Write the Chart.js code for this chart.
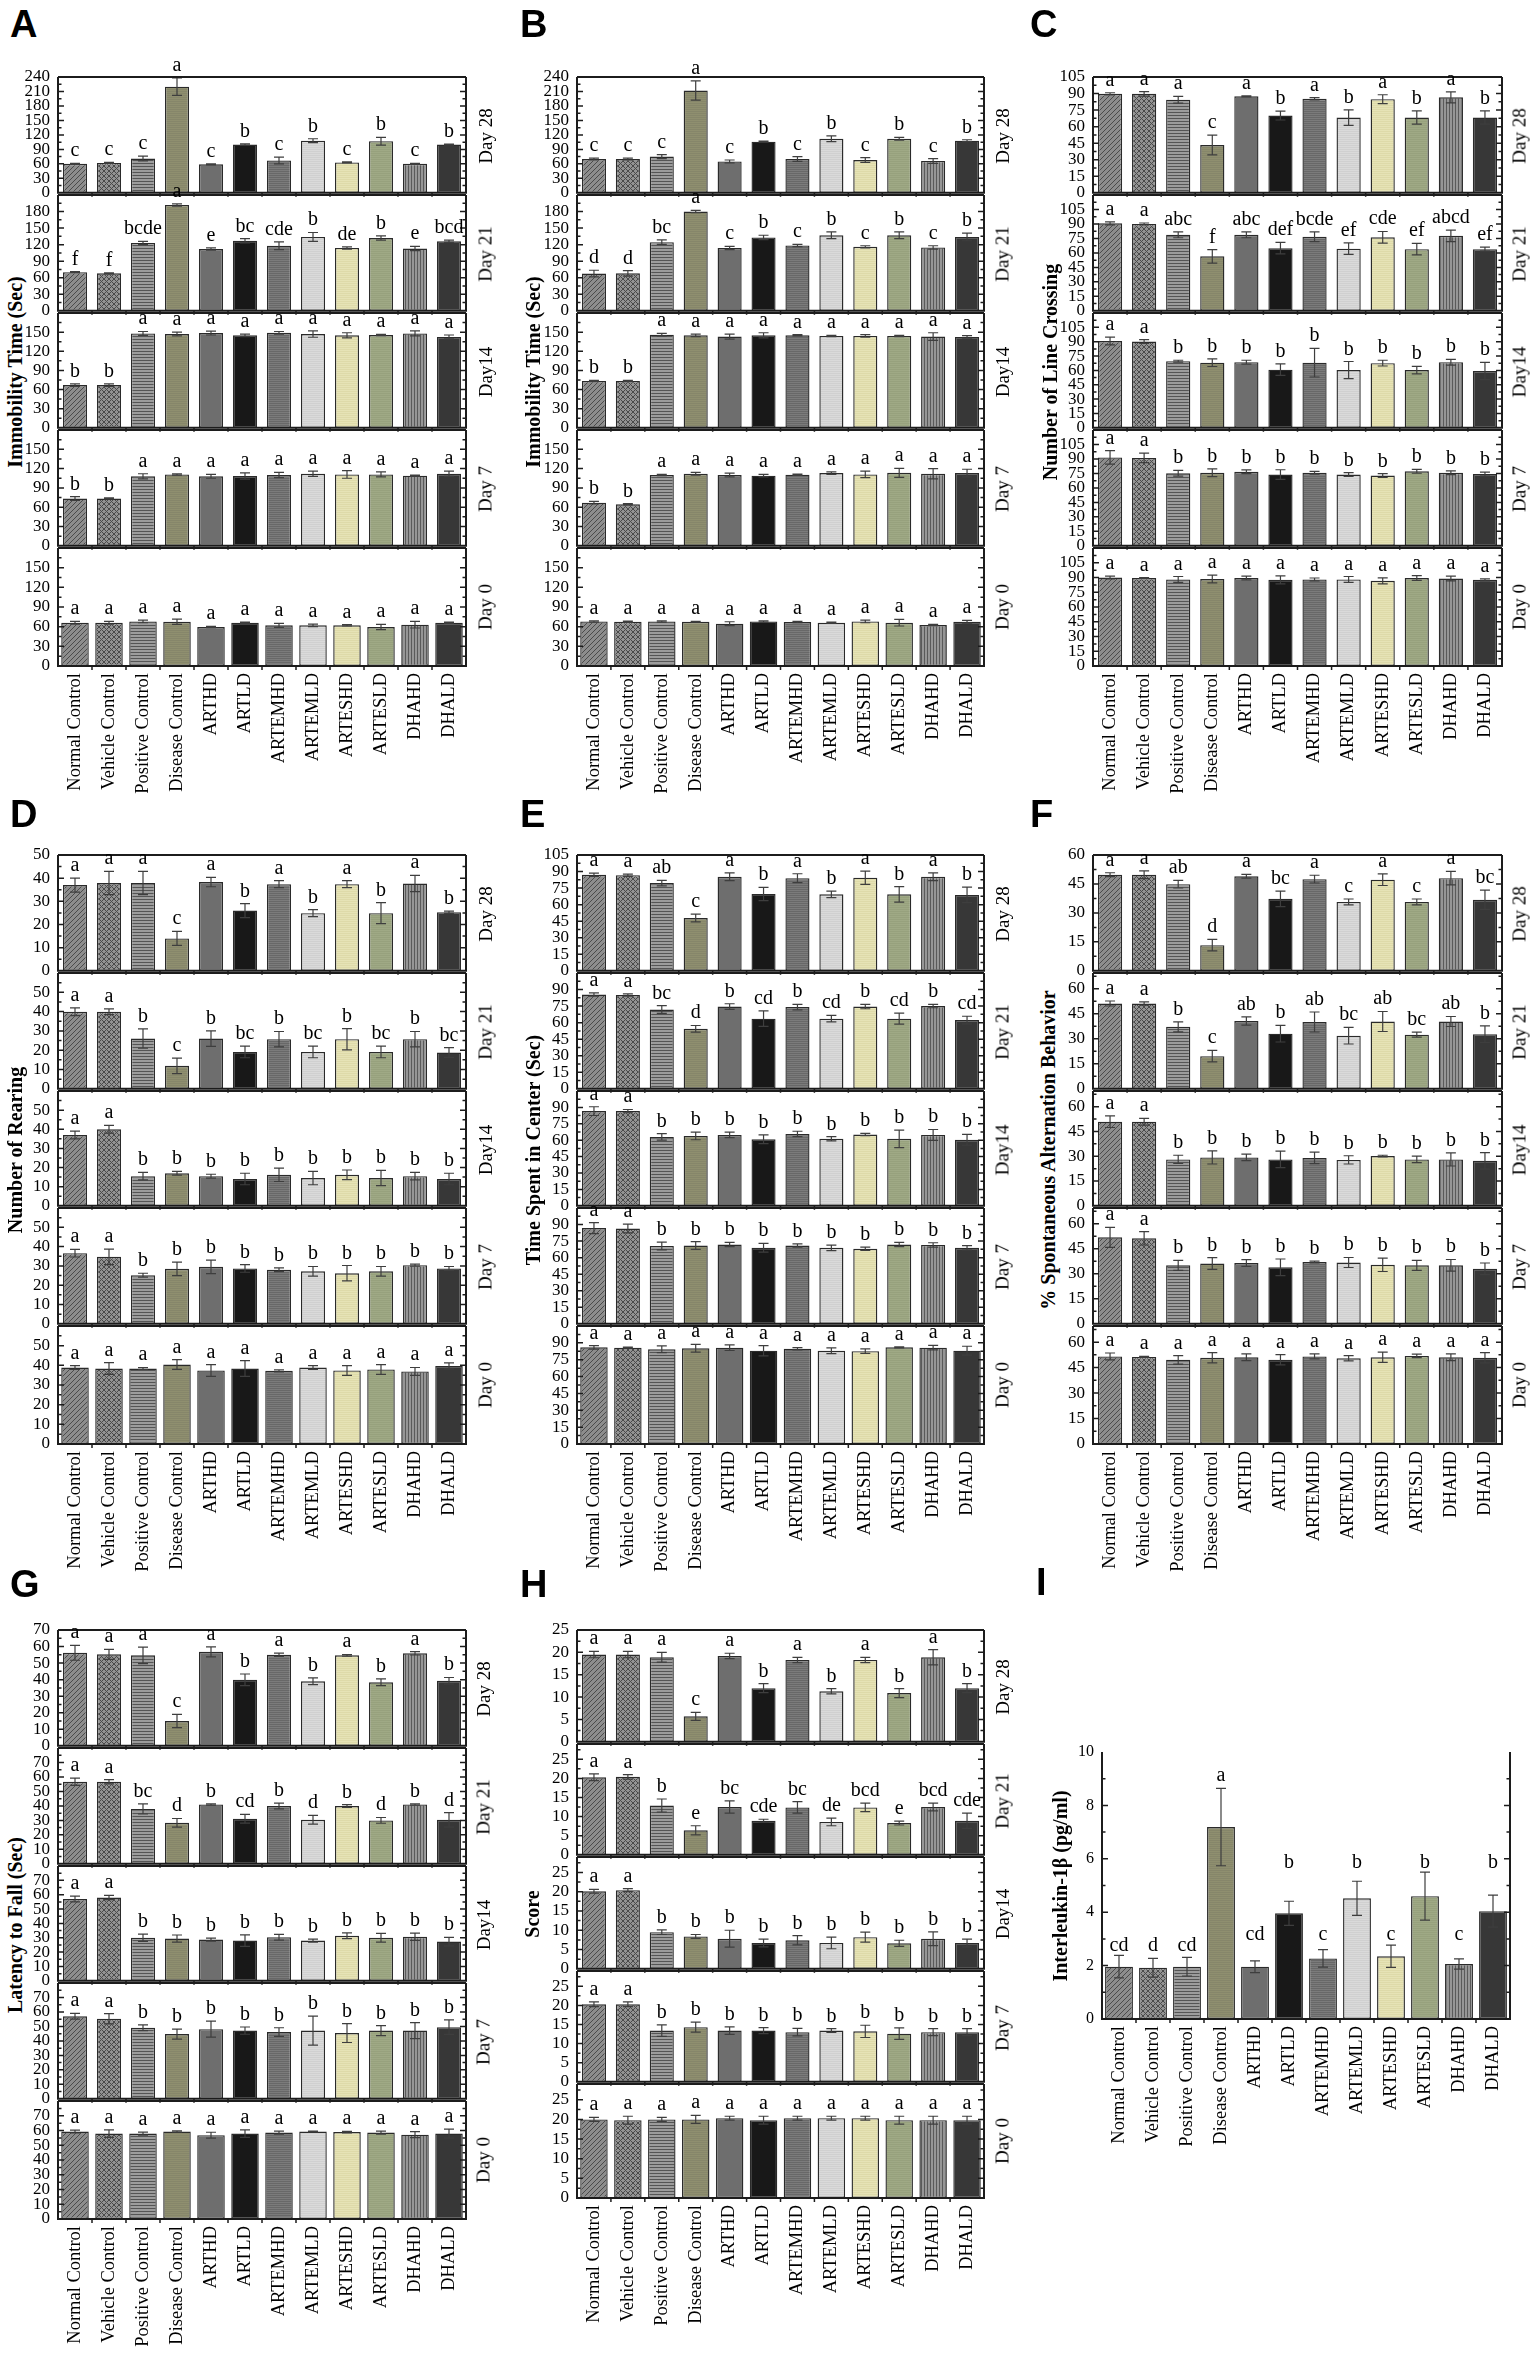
<!DOCTYPE html>
<html><head><meta charset="utf-8">
<script src="https://cdn.jsdelivr.net/npm/chart.js@4.4.1/dist/chart.umd.min.js"></script>
<style>
html,body{margin:0;padding:0;background:#fff;}
body{position:relative;width:1538px;height:2357px;overflow:hidden;}
canvas{position:absolute;}
.t{position:absolute;white-space:nowrap;color:#000;}
.plet{font:bold 38px/38px "Liberation Sans";}
.rot{transform:translate(-50%,-50%) rotate(-90deg);}
.day{font:19px/19px "Liberation Serif";}
.ytit{font:bold 20px/20px "Liberation Serif";}
</style></head><body>
<script>
// ---------------- categories / labels ----------------
const groups = ["Normal Control","Vehicle Control","Positive Control","Disease Control","ARTHD","ARTLD","ARTEMHD","ARTEMLD","ARTESHD","ARTESLD","DHAHD","DHALD"];
const dayLabels = ["Day 28","Day 21","Day14","Day 7","Day 0"];

// ---------------- tick label lists ----------------
const ticks240 = [0,30,60,90,120,150,180,210,240];
const ticks180 = [0,30,60,90,120,150,180];
const ticks150 = [0,30,60,90,120,150];
const ticks105 = [0,15,30,45,60,75,90,105];
const ticks90  = [0,15,30,45,60,75,90];
const ticks50  = [0,10,20,30,40,50];
const ticks60  = [0,15,30,45,60];
const ticks70  = [0,10,20,30,40,50,60,70];
const ticks25  = [0,5,10,15,20,25];
const ticks10  = [0,2,4,6,8,10];

// ---------------- common letter lists ----------------
const sigAllA = ["a","a","a","a","a","a","a","a","a","a","a","a"];
const sigBBA  = ["b","b","a","a","a","a","a","a","a","a","a","a"];
const sigAAB  = ["a","a","b","b","b","b","b","b","b","b","b","b"];

// ---------------- Panel A: Immobility Time (Sec) ----------------
const A_d28_mean = [60,62,71,220,59,100,67,108,63,107,60,100];
const A_d28_sem  = [1,1,5,18,1,1.5,7,4,1,8,1,1];
const A_d28_sig  = ["c","c","c","a","c","b","c","b","c","b","c","b"];
const A_d21_mean = [70,68,123,192,112,127,118,134,114,132,113,126];
const A_d21_sem  = [1,1,3,2,2,4,7,8,2,4,4,2];
const A_d21_sig  = ["f","f","bcde","a","e","bc","cde","b","de","b","e","bcd"];
const A_d14_mean = [67,67,148,147,148.5,145,149,147,145,145.5,148,142.5];
const A_d14_sem  = [2,2,3,3,3,2,2,5,4,1,4,3];
const A_d7_mean  = [73.5,73.5,108,111,108,108.5,110,112,111,111,109,112];
const A_d7_sem   = [3,1,4,1,3,5,4,4,6,4,1,4];
const A_d0_mean  = [66,66,68,67.5,59.5,66,62,62,62,59.5,63,66];
const A_d0_sem   = [2,2,2,4,1,1,3,2,1,4,5,1];

// ---------------- Panel B: Immobility Time (Sec) ----------------
const B_d28_mean = [70,70,75,212,65,106,70,112,68,112,66,108];
const B_d28_sem  = [2,2,4,20,3,1,5,6,5,3,5,2];
const B_d28_sig  = ["c","c","c","a","c","b","c","b","c","b","c","b"];
const B_d21_mean = [67.5,68,124.5,180,114,133,118.5,137,116,137,115,134];
const B_d21_sem  = [6,5,4,2,3,4,2,6,2,6,3,7];
const B_d21_sig  = ["d","d","bc","a","c","b","c","b","c","b","c","b"];
const B_d14_mean = [73.5,73.5,146,145,143,145,145,144,144,144,143,142.5];
const B_d14_sem  = [1,1,2,2,4,4,1,1,2,1,6,2];
const B_d7_mean  = [67,64.5,110,112,110,109,110.5,113,111,113.5,112,113];
const B_d7_sem   = [2,1,1,2,3,2,1,2,5,7,8,6];
const B_d0_mean  = [68,67.5,68,67.5,64.5,68,67,66,68,66,62.5,67.5];
const B_d0_sem   = [1,1,1,0.5,3,1,1,1,2,5,1,2];

// ---------------- Panel C: Number of Line Crossing ----------------
const C_d28_mean = [89.7,89.7,84.4,43.3,87.5,70,85.3,68.2,84.9,68.2,86.6,68.2];
const C_d28_sem  = [1,2,3,9,0.5,4,1,7,4,6,5,6];
const C_d28_sig  = ["a","a","a","c","a","b","a","b","a","b","a","b"];
const C_d21_mean = [90.6,90,78.7,56.4,78.7,64.9,76.7,64.4,76.2,63.9,77.7,63.9];
const C_d21_sem  = [1.5,1,3,7,3,6,5,6,6,6,6,2];
const C_d21_sig  = ["a","a","abc","f","abc","def","bcde","ef","cde","ef","abcd","ef"];
const C_d14_mean = [90.7,90.2,69.6,68.1,68.6,60.8,68.1,60.3,67.6,60.3,68.6,59.3];
const C_d14_sem  = [4,2,1,4,2,6,15,9,3,4,3,9];
const C_d7_mean  = [91.6,91.1,75.2,75.7,76.7,73.8,75.7,73.8,72.8,77.2,75.7,74.3];
const C_d7_sem   = [7,5,3,4,2,5,1.5,2,2,2,2,2];
const C_d0_mean  = [90,89.5,88,88.5,89.5,87.6,88,88,86.6,89.5,89,87.6];
const C_d0_sem   = [1.5,0.5,3,4,2,4,1.5,3,3,2.5,2.5,1];

// ---------------- Panel D: Number of Rearing ----------------
const D_d28_mean = [37,37.9,37.9,14,38.3,26,37.4,24.9,37.4,24.9,37.7,25.3];
const D_d28_sem  = [3,5,5,3,2,3,1.5,1.5,1.5,4.5,3.5,0.5];
const D_d28_sig  = ["a","a","a","c","a","b","a","b","a","b","a","b"];
const D_d21_mean = [39.9,39.9,26,11.9,26,19.1,25.7,19.1,25.7,19.1,25.7,18.8];
const D_d21_sem  = [2,1.5,5,4,4,3,4,3,5.5,3,4,2.5];
const D_d21_sig  = ["a","a","b","c","b","bc","b","bc","b","bc","b","bc"];
const D_d14_mean = [37,40,15.5,17,15.5,14,16.2,14.5,16.2,14.5,15.5,14];
const D_d14_sem  = [2,2,2,1,1,3,3.5,3.5,2.5,4,2,3];
const D_d7_mean  = [36.6,34.7,25.2,28.5,29.5,28.7,28,27.2,26.2,27.2,30.4,28.7];
const D_d7_sem   = [2,4,1,3.5,3.5,2,1,2.5,4,2.5,0.5,1];
const D_d0_mean  = [38.9,38.4,38.4,40.4,37.4,38.4,37.2,38.9,37.4,37.9,36.9,39.7];
const D_d0_sem   = [1,3,0.5,2.5,3,4,0.5,1,2.5,2.5,2,1.5];

// ---------------- Panel E: Time Spent in Center (Sec) ----------------
const E_d28_mean = [87.1,86.7,79.5,47.8,85.3,69.7,84,69.3,84.4,69.3,85.3,68.8];
const E_d28_sem  = [1.5,1,2.5,3.5,3.5,6,4,3,6,7,3.5,7];
const E_d28_sig  = ["a","a","ab","c","a","b","a","b","a","b","a","b"];
const E_d21_mean = [85.5,85.1,71.9,54.4,74.6,63.6,74.1,63.6,74.6,63.6,75,62.3];
const E_d21_sem  = [1.5,1,3.5,3,2.5,7,2.5,3,2,5,1.5,3.5];
const E_d21_sig  = ["a","a","bc","d","b","cd","b","cd","b","cd","b","cd"];
const E_d14_mean = [86.6,86.6,63,63.9,64.8,60.8,65.7,61.3,65.2,61.3,64.8,60.4];
const E_d14_sem  = [4,1.5,3,3.5,2.5,4,2.5,2,1,8,5,5];
const E_d7_mean  = [86.8,86.4,70.6,71,71.9,68.9,71,68.9,68,71.9,71.5,68.9];
const E_d7_sem   = [5,4,3.5,3.5,2,4,1.5,2.5,1.5,2,2,2];
const E_d0_mean  = [86,85.7,84.3,85.2,85.7,83,84.8,83,82.6,86,85.7,83];
const E_d0_sem   = [1.5,0.5,3,3.5,2.5,4.5,1,2.5,2,0.5,2,4];

// ---------------- Panel F: % Spontaneous Alternation Behavior ----------------
const F_d28_mean = [49.8,49.8,44.9,13.3,49,37.3,47.5,35.7,47.2,35.7,48,36.8];
const F_d28_sem  = [1,2,2,3,1,4,2,1.5,3,1.5,3.5,5];
const F_d28_sig  = ["a","a","ab","d","a","bc","a","c","a","c","a","bc"];
const F_d21_mean = [51.2,51.2,37.2,19.6,40.7,33.1,40.1,31.9,40.4,32.5,40.4,32.8];
const F_d21_sem  = [1.5,1,3,3.5,2.5,5,6,5,6,1.5,3,5];
const F_d21_sig  = ["a","a","b","c","ab","b","ab","bc","ab","bc","ab","b"];
const F_d14_mean = [50.9,50.9,28.1,29.3,29.3,28.1,29,27.8,30.1,28.1,28.1,27.2];
const F_d14_sem  = [3.5,2,2.5,4,2,5,3.5,2.5,0.5,2,4,5];
const F_d7_mean  = [51.9,51.3,35.1,36.2,36.5,33.9,37.1,36.8,35.4,35.1,35.1,33];
const F_d7_sem   = [6,4,3,3.5,2,5,0.5,3,4,3,3.5,3.5];
const F_d0_mean  = [51.6,51.3,49.6,50.8,51.1,49.6,51.6,50.5,51.1,51.9,51.1,50.8];
const F_d0_sem   = [2,0.3,2.5,3,2,3,1.5,1.5,3,1,2,3];

// ---------------- Panel G: Latency to Fall (Sec) ----------------
const G_d28_mean = [56.2,55.3,54.7,15,56.8,39.9,55,39,54.7,38.4,55.9,39.3];
const G_d28_sem  = [4.5,3,5,4,3,3.5,1,2,0.5,2,1,2];
const G_d28_sig  = ["a","a","a","c","a","b","a","b","a","b","a","b"];
const G_d21_mean = [56.7,56.7,37.9,28.3,41,31.1,39.9,30.4,39.9,30,41,30.4];
const G_d21_sem  = [2.5,1.5,3.5,3,0.5,3,2,3,1,2,0.5,5];
const G_d21_sig  = ["a","a","bc","d","b","cd","b","d","b","d","b","d"];
const G_d14_mean = [57,58,30,29.4,28.7,28,30.4,28,31.4,30,30.7,27.3];
const G_d14_sem  = [2,1.5,2.5,2.5,1,4,2,1,2,3,2.5,3];
const G_d7_mean  = [57,55.3,49.1,44.7,48.1,47.1,46.1,47.1,45.4,47.1,47.1,49.5];
const G_d7_sem   = [2,3.5,2,3.5,5.5,2.5,3,10,6.5,3.5,5.5,5];
const G_d0_mean  = [59.3,57.9,57.9,59.3,56.8,57.9,58.6,59.3,58.9,58.6,57.2,57.9];
const G_d0_sem   = [1,2.5,1,0.5,2,2.5,1,0.3,0.5,1,2,3];

// ---------------- Panel H: Score ----------------
const H_d28_mean = [19.5,19.5,18.9,5.7,19.2,12,18.3,11.3,18.3,10.9,18.9,12];
const H_d28_sem  = [0.7,0.7,1.1,0.9,0.6,1,0.6,0.6,0.6,1,1.7,1];
const H_d28_sig  = ["a","a","a","c","a","b","a","b","a","b","a","b"];
const H_d21_mean = [20.3,20.4,12.9,6.4,12.5,8.9,12.4,8.6,12.4,8.3,12.5,8.9];
const H_d21_sem  = [0.9,0.6,1.7,1.2,1.6,0.4,1.5,1,1.1,0.5,1,2];
const H_d21_sig  = ["a","a","b","e","bc","cde","bc","de","bcd","e","bcd","cde"];
const H_d14_mean = [20.1,20.4,9.5,8.4,7.8,6.7,7.4,6.7,8.2,6.6,7.8,6.7];
const H_d14_sem  = [0.5,0.4,0.6,0.5,2.2,1,1.2,1.5,1.3,0.8,1.8,1];
const H_d7_mean  = [20.3,20.3,13.4,14.3,13.4,13.4,13,13.4,13.2,12.6,13,13];
const H_d7_sem   = [0.6,0.6,1.5,1.3,1,0.8,1,0.5,1.6,1.5,0.9,0.9];
const H_d0_mean  = [20,19.8,20,20,20.3,19.8,20.3,20.3,20.3,19.8,19.8,19.8];
const H_d0_sem   = [0.5,1,0.5,1,0.5,1,0.5,0.5,0.5,1,1,1];

// ---------------- Panel I: Interleukin-1β (pg/ml) ----------------
const I_mean = [1.96,1.92,1.96,7.19,1.96,3.96,2.27,4.52,2.35,4.6,2.06,4.04];
const I_sem  = [0.42,0.35,0.35,1.45,0.22,0.45,0.33,0.64,0.42,0.9,0.19,0.6];
const I_sig  = ["cd","d","cd","a","cd","b","c","b","c","b","c","b"];
const I_sigPos = [2.75,2.75,2.75,9.1,3.15,5.85,3.15,5.85,3.15,5.85,3.15,5.85];

// ---------------- fills (library patterns) ----------------
function pat(base, line, type, sp){
  const c=document.createElement('canvas'); c.width=sp; c.height=sp;
  const g=c.getContext('2d'); g.fillStyle=base; g.fillRect(0,0,sp,sp);
  if(type){
    g.strokeStyle=line; g.lineWidth=1; g.beginPath();
    if(type==='diag'||type==='cross'){ g.moveTo(-1,sp+1); g.lineTo(sp+1,-1); g.moveTo(-1,1); g.lineTo(1,-1); g.moveTo(sp-1,sp+1); g.lineTo(sp+1,sp-1); }
    if(type==='cross'){ g.moveTo(-1,-1); g.lineTo(sp+1,sp+1); g.moveTo(sp-1,-1); g.lineTo(sp+1,1); g.moveTo(-1,sp-1); g.lineTo(1,sp+1); }
    if(type==='h'){ g.moveTo(0,0.5); g.lineTo(sp,0.5); }
    if(type==='v'){ g.moveTo(0.5,0); g.lineTo(0.5,sp); }
    g.stroke();
  }
  return g.createPattern(c,'repeat');
}
const fills = [
  pat('#8d8d8d','#4b4b4b','diag',5),
  pat('#939393','#4a4a4a','cross',5),
  pat('#9c9c9c','#555555','h',3),
  pat('#8f8f6f','#86866a','h',2),
  pat('#6e6e6e',null,null,2),
  pat('#181818',null,null,2),
  pat('#7b7b7b','#686868','h',2),
  pat('#dadada','#d0d0d0','h',2),
  pat('#e6e3b6','#dedaa9','h',2),
  pat('#9fa985','#97a17d','h',2),
  pat('#969696','#5a5a5a','v',3),
  pat('#373737',null,null,2)
];

// ---------------- layout of panels ----------------
const P = {
  A:{L:58,R:466,T:77,B:666,dayX:485,titleX:15,letX:10,letY:5,title:"Immobility Time (Sec)"},
  B:{L:577,R:984,T:77,B:666,dayX:1002,titleX:533,letX:520,letY:5,title:"Immobility Time (Sec)"},
  C:{L:1093,R:1502,T:77,B:666,dayX:1519,titleX:1050,letX:1030,letY:5,title:"Number of Line Crossing"},
  D:{L:58,R:466,T:855,B:1444,dayX:485,titleX:15,letX:10,letY:795,title:"Number of Rearing"},
  E:{L:577,R:984,T:855,B:1444,dayX:1002,titleX:533,letX:520,letY:795,title:"Time Spent in Center (Sec)"},
  F:{L:1093,R:1502,T:855,B:1444,dayX:1519,titleX:1048,letX:1030,letY:795,title:"% Spontaneous Alternation Behavior"},
  G:{L:58,R:466,T:1630,B:2219,dayX:483,titleX:15,letX:10,letY:1565,title:"Latency to Fall (Sec)"},
  H:{L:577,R:984,T:1630,B:2198,dayX:1002,titleX:532,letX:520,letY:1565,title:"Score"},
  I:{L:1102,R:1510,T:1752,B:2019,titleX:1060,letX:1036,letY:1563,title:"Interleukin-1β (pg/ml)"}
};

function addText(txt, x, y, cls){
  const d=document.createElement('div'); d.className='t '+cls; d.textContent=txt;
  d.style.left=x+'px'; d.style.top=y+'px'; document.body.appendChild(d); return d;
}

function decor(sem, sig, ax, opt){
  return { id:'decor', afterDatasetsDraw(chart){
    const ctx=chart.ctx, a=chart.chartArea, y=chart.scales.y;
    const meta=chart.getDatasetMeta(0), vals=chart.data.datasets[0].data;
    ctx.save();
    ctx.strokeStyle='#3e3e3e'; ctx.lineWidth=1.2;
    meta.data.forEach((b,i)=>{
      const yt=y.getPixelForValue(vals[i]+sem[i]), yb=y.getPixelForValue(vals[i]-sem[i]);
      ctx.beginPath(); ctx.moveTo(b.x,yt); ctx.lineTo(b.x,yb);
      ctx.moveTo(b.x-5,yt); ctx.lineTo(b.x+5,yt); ctx.moveTo(b.x-5,yb); ctx.lineTo(b.x+5,yb); ctx.stroke();
    });
    ctx.strokeStyle='#1c1c1c'; ctx.lineWidth=2; ctx.beginPath();
    if(!opt.noTop){ ctx.moveTo(a.left,a.top); ctx.lineTo(a.right,a.top); }
    ctx.moveTo(a.left,a.top); ctx.lineTo(a.left,a.bottom); ctx.lineTo(a.right,a.bottom); ctx.lineTo(a.right,a.top);
    ctx.stroke();
    ctx.lineWidth=1.5; ctx.beginPath();
    for(let j=1; j*ax.minor < ax.max-1e-6; j++){
      const py=y.getPixelForValue(j*ax.minor); const len=(j%2===0)?6:3.5;
      ctx.moveTo(a.left,py); ctx.lineTo(a.left+len,py);
      ctx.moveTo(a.right,py); ctx.lineTo(a.right-len,py);
    }
    const pitch=(a.right-a.left)/groups.length;
    for(let i=1;i<groups.length;i++){ const px=a.left+i*pitch; ctx.moveTo(px,a.bottom); ctx.lineTo(px,a.bottom+4); }
    ctx.stroke();
    ctx.fillStyle='#000'; ctx.font='20px "Liberation Serif"'; ctx.textAlign='center';
    meta.data.forEach((b,i)=>{
      if(opt.pos){ ctx.textBaseline='middle'; ctx.fillText(sig[i], b.x, y.getPixelForValue(opt.pos[i])); }
      else { ctx.textBaseline='alphabetic'; ctx.fillText(sig[i], b.x, y.getPixelForValue(vals[i]+sem[i])-7); }
    });
    ctx.restore();
  }};
}

function barChart(left, top, w, h, isBottom, mean, sem, sig, ax, opt){
  const YW=64, TP=46, RP=18, BP=isBottom?0:16, XH=isBottom?175:0;
  const W=YW+w+RP, H=TP+h+XH+BP;
  const cv=document.createElement('canvas'); cv.width=W; cv.height=H;
  cv.style.left=(left-YW)+'px'; cv.style.top=(top-TP)+'px'; cv.style.width=W+'px'; cv.style.height=H+'px';
  document.body.appendChild(cv);
  new Chart(cv,{
    type:'bar',
    data:{labels:groups, datasets:[{data:mean, backgroundColor:fills, borderColor:'#2a2a2a', borderWidth:1.4, borderSkipped:false, barPercentage:opt.bp||0.71, categoryPercentage:1}]},
    options:{
      responsive:false, animation:false, devicePixelRatio:1, events:[],
      layout:{padding:{left:0,top:TP,right:RP,bottom:BP}},
      plugins:{legend:{display:false}, tooltip:{enabled:false}},
      scales:{
        x:{grid:{display:false,drawTicks:false}, border:{display:false},
           ticks:{display:isBottom, autoSkip:false, minRotation:90, maxRotation:90, padding:7, color:'#000', font:{family:'Liberation Serif', size:18.5}},
           afterFit:s=>{s.height=XH;}},
        y:{min:0, max:ax.max, grid:{display:false,drawTicks:false}, border:{display:false},
           afterBuildTicks:s=>{s.ticks=ax.t.map(v=>({value:v}));},
           ticks:{autoSkip:false, padding:8, color:'#000', font:{family:'Liberation Serif', size:opt.tickSize||17}},
           afterFit:s=>{s.width=YW;}}
      }
    },
    plugins:[decor(sem, sig, ax, opt)]
  });
}

function stackPanel(key, days, axes, wideDay0){
  const c=P[key], n=days.length, step=(c.B-c.T)/n;
  addText(key, c.letX, c.letY, 'plet');
  addText(c.title, c.titleX, (c.T+c.B)/2, 'ytit rot');
  days.forEach((d,k)=>{
    const t=Math.round(c.T+k*step), b=Math.round(c.T+(k+1)*step);
    const bottom=(k===n-1);
    barChart(c.L, t, c.R-c.L, b-t, bottom, d[0], d[1], d[2], axes[k], {bp:(bottom&&wideDay0)?0.81:0.71});
    addText(dayLabels[k], c.dayX, (t+b)/2, 'day rot');
  });
}

const axA=[{max:240,t:ticks240,minor:15},{max:210,t:ticks180,minor:15},{max:180,t:ticks150,minor:15},{max:180,t:ticks150,minor:15},{max:180,t:ticks150,minor:15}];
const axC=[{max:105,t:ticks105,minor:7.5},{max:120,t:ticks105,minor:7.5},{max:120,t:ticks105,minor:7.5},{max:120,t:ticks105,minor:7.5},{max:120,t:ticks105,minor:7.5}];
const axD=[{max:50,t:ticks50,minor:5},{max:60,t:ticks50,minor:5},{max:60,t:ticks50,minor:5},{max:60,t:ticks50,minor:5},{max:60,t:ticks50,minor:5}];
const axE=[{max:105,t:ticks105,minor:7.5},{max:105,t:ticks90,minor:7.5},{max:105,t:ticks90,minor:7.5},{max:105,t:ticks90,minor:7.5},{max:105,t:ticks90,minor:7.5}];
const axF=[{max:60,t:ticks60,minor:7.5},{max:69.5,t:ticks60,minor:7.5},{max:69.5,t:ticks60,minor:7.5},{max:69.5,t:ticks60,minor:7.5},{max:69.5,t:ticks60,minor:7.5}];
const axG=[{max:70,t:ticks70,minor:5},{max:80,t:ticks70,minor:5},{max:80,t:ticks70,minor:5},{max:80,t:ticks70,minor:5},{max:80,t:ticks70,minor:5}];
const axH=[{max:25,t:ticks25,minor:2.5},{max:29,t:ticks25,minor:2.5},{max:29,t:ticks25,minor:2.5},{max:29,t:ticks25,minor:2.5},{max:29,t:ticks25,minor:2.5}];

stackPanel('A',[[A_d28_mean,A_d28_sem,A_d28_sig],[A_d21_mean,A_d21_sem,A_d21_sig],[A_d14_mean,A_d14_sem,sigBBA],[A_d7_mean,A_d7_sem,sigBBA],[A_d0_mean,A_d0_sem,sigAllA]],axA,true);
stackPanel('B',[[B_d28_mean,B_d28_sem,B_d28_sig],[B_d21_mean,B_d21_sem,B_d21_sig],[B_d14_mean,B_d14_sem,sigBBA],[B_d7_mean,B_d7_sem,sigBBA],[B_d0_mean,B_d0_sem,sigAllA]],axA,true);
stackPanel('C',[[C_d28_mean,C_d28_sem,C_d28_sig],[C_d21_mean,C_d21_sem,C_d21_sig],[C_d14_mean,C_d14_sem,sigAAB],[C_d7_mean,C_d7_sem,sigAAB],[C_d0_mean,C_d0_sem,sigAllA]],axC,false);
stackPanel('D',[[D_d28_mean,D_d28_sem,D_d28_sig],[D_d21_mean,D_d21_sem,D_d21_sig],[D_d14_mean,D_d14_sem,sigAAB],[D_d7_mean,D_d7_sem,sigAAB],[D_d0_mean,D_d0_sem,sigAllA]],axD,true);
stackPanel('E',[[E_d28_mean,E_d28_sem,E_d28_sig],[E_d21_mean,E_d21_sem,E_d21_sig],[E_d14_mean,E_d14_sem,sigAAB],[E_d7_mean,E_d7_sem,sigAAB],[E_d0_mean,E_d0_sem,sigAllA]],axE,true);
stackPanel('F',[[F_d28_mean,F_d28_sem,F_d28_sig],[F_d21_mean,F_d21_sem,F_d21_sig],[F_d14_mean,F_d14_sem,sigAAB],[F_d7_mean,F_d7_sem,sigAAB],[F_d0_mean,F_d0_sem,sigAllA]],axF,false);
stackPanel('G',[[G_d28_mean,G_d28_sem,G_d28_sig],[G_d21_mean,G_d21_sem,G_d21_sig],[G_d14_mean,G_d14_sem,sigAAB],[G_d7_mean,G_d7_sem,sigAAB],[G_d0_mean,G_d0_sem,sigAllA]],axG,true);
stackPanel('H',[[H_d28_mean,H_d28_sem,H_d28_sig],[H_d21_mean,H_d21_sem,H_d21_sig],[H_d14_mean,H_d14_sem,sigAAB],[H_d7_mean,H_d7_sem,sigAAB],[H_d0_mean,H_d0_sem,sigAllA]],axH,true);

// Panel I (single chart)
(function(){
  const c=P.I;
  addText('I', c.letX, c.letY, 'plet');
  addText(c.title, c.titleX, (c.T+c.B)/2, 'ytit rot');
  barChart(c.L, c.T, c.R-c.L, c.B-c.T, true, I_mean, I_sem, I_sig, {max:10,t:ticks10,minor:1}, {bp:0.82, noTop:true, pos:I_sigPos, tickSize:16});
})();
</script>
</body></html>
